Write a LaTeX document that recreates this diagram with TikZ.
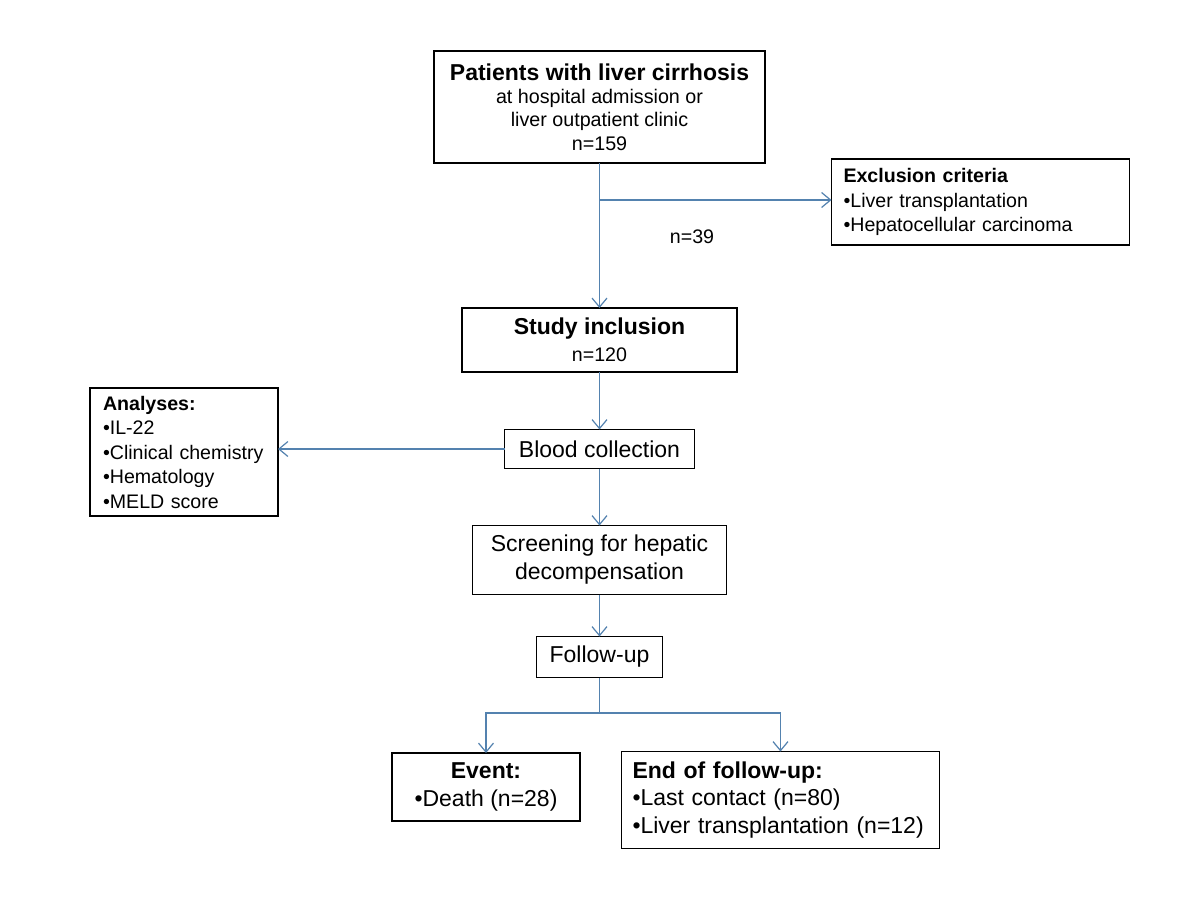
\documentclass[tikz,border=0pt]{standalone}
\usepackage{fontspec}
\setmainfont{Liberation Sans}
\usetikzlibrary{arrows.meta,calc}
\definecolor{conn}{RGB}{84,130,175}
\begin{document}
\begin{tikzpicture}[x=1pt,y=-1pt,
  box/.style={draw=black,line width=1.2pt,inner sep=0pt,outer sep=0pt},
  arr/.style={draw=conn,line width=1.2pt,-{Straight Barb[length=9pt,width=15pt,line width=1.2pt]}},
  ln/.style={draw=conn,line width=1.2pt},
  big/.style={font=\fontsize{23}{28}\selectfont},
  small/.style={font=\fontsize{19.6}{24.5}\selectfont}]
\useasboundingbox (0,0) rectangle (1200,900);

\node[box,font=\fontsize{19.7}{23.3}\selectfont,align=center,minimum width=331,minimum height=112] (p1) at (599.5,107)
  {{\fontsize{23}{24}\selectfont\bfseries Patients with liver cirrhosis}\\at hospital admission or\\liver outpatient clinic\\n=159};

\node[box,small,align=left,text width=274,inner xsep=12,minimum height=86] (excl) at (980.5,202)
  {\textbf{Exclusion criteria}\\•Liver transplantation\\•Hepatocellular carcinoma};

\node[small] (n39) at (692,237) {n=39};

\node[box,font=\fontsize{19.6}{27}\selectfont,align=center,minimum width=275,minimum height=64] (incl) at (599.5,340)
  {{\fontsize{23}{24}\selectfont\bfseries Study inclusion}\\n=120};

\node[box,big,minimum width=190,minimum height=39] (blood) at (599.5,449) {Blood collection};

\node[box,small,align=left,text width=162,inner xsep=13,minimum height=128] (anal) at (184,452)
  {\textbf{Analyses:}\\•IL-22\\•Clinical chemistry\\•Hematology\\•MELD score};

\node[box,big,align=center,minimum width=254,minimum height=69] (screen) at (599.5,560)
  {Screening for hepatic\\decompensation};

\node[box,big,minimum width=126,minimum height=41] (follow) at (599.5,657) {Follow-up};

\node[box,big,align=center,minimum width=188,minimum height=68] (event) at (486,787)
  {\textbf{Event:}\\•Death (n=28)};

\node[box,font=\fontsize{23}{27.5}\selectfont,align=left,text width=296,inner xsep=11,minimum height=97] (end) at (780.5,800)
  {\textbf{End of follow-up:}\\•Last contact (n=80)\\•Liver transplantation (n=12)};

\coordinate (br) at (599.5,200);
\coordinate (sp) at (599.5,713);

\draw[arr] (p1.south) -- (incl.north);
\draw[arr] (br) -- (excl.west |- br);
\draw[arr] (incl.south) -- (blood.north);
\draw[arr] (blood.west) -- (blood.west -| anal.east);
\draw[arr] (blood.south) -- (screen.north);
\draw[arr] (screen.south) -- (follow.north);
\draw[ln] (follow.south) -- (sp);
\draw[arr] (sp) -| (event.north);
\draw[arr] (sp) -| (end.north);
\end{tikzpicture}
\end{document}
